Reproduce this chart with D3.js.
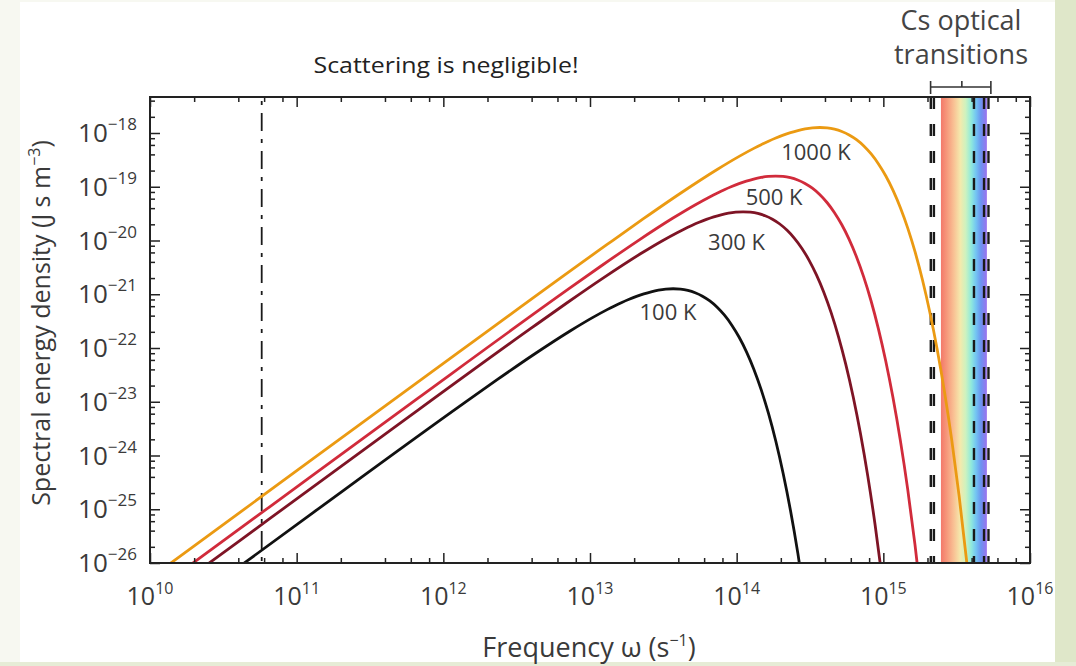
<!DOCTYPE html>
<html>
<head>
<meta charset="utf-8">
<script src="https://cdn.jsdelivr.net/npm/d3@7"></script>
<style>
  html, body { margin: 0; padding: 0; background: #f7f8f1; }
  svg { display: block; }
</style>
</head>
<body>
<svg id="chart" width="1076" height="666"></svg>
<script>
// ---- Blackbody spectral energy density curves (log10 of ω in s^-1, log10 of u in J s m^-3) ----
const seriesNames = ["100 K", "300 K", "500 K", "1000 K"];
const seriesColors = ["#111111", "#7e1425", "#d12b3b", "#eb9a12"];

const freqExp100 = [10.500, 11.117, 12.117, 12.367, 12.617, 12.867, 13.017, 13.117,
  13.167, 13.217, 13.267, 13.317, 13.367, 13.417, 13.467, 13.517, 13.567, 13.617,
  13.667, 13.717, 13.767, 13.817, 13.867, 13.917, 13.967, 14.017, 14.067, 14.117,
  14.167, 14.217, 14.267, 14.317, 14.367, 14.417, 14.467];
const densExp100 = [-26.285, -25.053, -23.073, -22.590, -22.121, -21.679, -21.435, -21.286,
  -21.217, -21.152, -21.093, -21.039, -20.993, -20.954, -20.924, -20.905, -20.898, -20.905,
  -20.929, -20.972, -21.036, -21.124, -21.241, -21.390, -21.575, -21.800, -22.071, -22.394,
  -22.774, -23.218, -23.735, -24.334, -25.024, -25.816, -26.723];

const freqExp300 = [10.000, 10.594, 11.594, 12.594, 12.844, 13.094, 13.344, 13.494, 13.594,
  13.644, 13.694, 13.744, 13.794, 13.844, 13.894, 13.944, 13.994, 14.044, 14.094,
  14.144, 14.194, 14.244, 14.294, 14.344, 14.394, 14.444, 14.494, 14.544, 14.594,
  14.644, 14.694, 14.744, 14.794, 14.844, 14.894, 14.944, 14.994];
const densExp300 = [-26.808, -25.619, -23.621, -21.641, -21.158, -20.690, -20.247, -20.003, -19.854,
  -19.785, -19.721, -19.661, -19.608, -19.561, -19.522, -19.492, -19.473, -19.466, -19.474,
  -19.497, -19.540, -19.604, -19.693, -19.810, -19.959, -20.143, -20.369, -20.640, -20.962,
  -21.342, -21.787, -22.304, -22.902, -23.592, -24.384, -25.292, -26.328];

const freqExp500 = [10.000, 10.816, 11.816, 12.816, 13.066, 13.316, 13.566, 13.716, 13.816,
  13.866, 13.916, 13.966, 14.016, 14.066, 14.116, 14.166, 14.216, 14.266, 14.316,
  14.366, 14.416, 14.466, 14.516, 14.566, 14.616, 14.666, 14.716, 14.766, 14.816,
  14.866, 14.916, 14.966, 15.016, 15.066, 15.116, 15.166, 15.216, 15.266];
const densExp500 = [-26.586, -24.954, -22.956, -20.976, -20.493, -20.024, -19.582, -19.338, -19.189,
  -19.120, -19.055, -18.996, -18.942, -18.896, -18.857, -18.827, -18.808, -18.801, -18.808,
  -18.832, -18.875, -18.939, -19.027, -19.144, -19.293, -19.478, -19.703, -19.974, -20.297,
  -20.677, -21.121, -21.638, -22.237, -22.927, -23.719, -24.626, -25.663, -26.844];

const freqExp1000 = [10.000, 11.117, 12.117, 13.117, 13.367, 13.617, 13.867, 14.017, 14.117,
  14.167, 14.217, 14.267, 14.317, 14.367, 14.417, 14.467, 14.517, 14.567, 14.617,
  14.667, 14.717, 14.767, 14.817, 14.867, 14.917, 14.967, 15.017, 15.067, 15.117,
  15.167, 15.217, 15.267, 15.317, 15.367, 15.417, 15.467, 15.517, 15.567, 15.617];
const densExp1000 = [-26.285, -24.051, -22.053, -20.073, -19.590, -19.121, -18.679, -18.435, -18.286,
  -18.217, -18.152, -18.093, -18.039, -17.993, -17.954, -17.924, -17.905, -17.898, -17.905,
  -17.929, -17.972, -18.036, -18.124, -18.241, -18.390, -18.575, -18.800, -19.071, -19.394,
  -19.774, -20.218, -20.735, -21.334, -22.024, -22.816, -23.723, -24.760, -25.941, -27.284];

// label anchor points for each curve (frequency, density at the text baseline)
const labelFreq = [3.40e13, 9.98e13, 1.80e14, 3.47e14];
const labelDens = [3.32e-22, 6.65e-21, 4.57e-20, 3.15e-19];

// ---- Axes ----
const xTickValues = [1e10, 1e11, 1e12, 1e13, 1e14, 1e15, 1e16];
const xTickExps = ["10", "11", "12", "13", "14", "15", "16"];
const yTickValues = [1e-26, 1e-25, 1e-24, 1e-23, 1e-22, 1e-21, 1e-20, 1e-19, 1e-18];
const yTickExps = ["−26", "−25", "−24", "−23", "−22", "−21", "−20", "−19", "−18"];
const minorMultipliers = [2, 4, 6, 8];

// ---- Annotations ----
const hyperfineFreq = 5.776e10;                       // Cs ground-state hyperfine (dash-dot)
const csLineFreqs = [2.107e15, 2.212e15, 4.15e15, 4.86e15, 5.21e15]; // Cs optical lines
const visibleBand = [2.47e15, 5.08e15];               // visible spectrum band
const bracketFreqs = [2.10e15, 3.43e15, 5.41e15];      // left end, middle tick, right end

const W = 1076, H = 666;
const plotLeft = 150, plotRight = 1030, plotTop = 97, plotBottom = 563;

const svg = d3.select("#chart");

// page panels
svg.append("rect").attr("x", 0).attr("y", 0).attr("width", W).attr("height", H).attr("fill", "#f7f8f1");
svg.append("rect").attr("x", 1055).attr("y", 0).attr("width", W - 1055).attr("height", H).attr("fill", "#dfe7c9");
svg.append("rect").attr("x", 0).attr("y", 662).attr("width", W).attr("height", 4).attr("fill", "#e6ecd6");
svg.append("rect").attr("x", 20).attr("y", 2).attr("width", 1035).attr("height", 660).attr("fill", "#ffffff");

const x = d3.scaleLog().domain([1e10, 1e16]).range([plotLeft, plotRight]);
const y = d3.scaleLog().domain([1e-26, 1e-18]).range([plotBottom, 133]);

const defs = svg.append("defs");
defs.append("clipPath").attr("id", "plotClip")
  .append("rect").attr("x", plotLeft).attr("y", plotTop)
  .attr("width", plotRight - plotLeft).attr("height", plotBottom - plotTop);

// visible band gradient
const grad = defs.append("linearGradient").attr("id", "visGrad")
  .attr("x1", "0%").attr("x2", "100%").attr("y1", "0%").attr("y2", "0%");
[
  [0.00, "#f3796a"], [0.12, "#f6967a"], [0.28, "#f9c194"], [0.42, "#f5e9ac"],
  [0.54, "#cdf2bf"], [0.66, "#8fe9dc"], [0.76, "#74c6f2"], [0.87, "#6b94f0"], [1.00, "#9b72ee"]
].forEach(([o, c]) => grad.append("stop").attr("offset", o).attr("stop-color", c));

svg.append("rect")
  .attr("x", x(visibleBand[0])).attr("y", plotTop)
  .attr("width", x(visibleBand[1]) - x(visibleBand[0])).attr("height", plotBottom - plotTop)
  .attr("fill", "url(#visGrad)");

// Cs optical transitions (thick dashed lines)
svg.append("g").selectAll("line").data(csLineFreqs).join("line")
  .attr("x1", d => x(d)).attr("x2", d => x(d))
  .attr("y1", plotTop).attr("y2", plotBottom)
  .attr("stroke", "#1a1a1a").attr("stroke-width", 2.4)
  .attr("stroke-dasharray", "12,15");

// hyperfine line (dash-dot)
svg.append("line")
  .attr("x1", x(hyperfineFreq)).attr("x2", x(hyperfineFreq))
  .attr("y1", plotTop).attr("y2", plotBottom)
  .attr("stroke", "#1a1a1a").attr("stroke-width", 1.8)
  .attr("stroke-dasharray", "18,8,4,8").attr("stroke-dashoffset", 22);

// curves
const curveData = [
  freqExp100.map((f, i) => [10 ** f, 10 ** densExp100[i]]),
  freqExp300.map((f, i) => [10 ** f, 10 ** densExp300[i]]),
  freqExp500.map((f, i) => [10 ** f, 10 ** densExp500[i]]),
  freqExp1000.map((f, i) => [10 ** f, 10 ** densExp1000[i]])
];
const line = d3.line().x(d => x(d[0])).y(d => y(d[1])).curve(d3.curveMonotoneX);

svg.append("g").attr("clip-path", "url(#plotClip)")
  .selectAll("path").data(curveData).join("path")
  .attr("d", line)
  .attr("fill", "none")
  .attr("stroke", (d, i) => seriesColors[i])
  .attr("stroke-width", 2.8)
  .attr("stroke-linejoin", "round");

// curve labels
const font = "'Open Sans', sans-serif";
svg.append("g").selectAll("text").data(seriesNames).join("text")
  .attr("x", (d, i) => x(labelFreq[i]))
  .attr("y", (d, i) => y(labelDens[i]))
  .attr("text-anchor", "middle")
  .attr("font-family", font)
  .attr("font-size", 22)
  .attr("fill", "#3a3a3a")
  .text(d => d);

// axes ticks
function minorValues(lo, hi) {
  const out = [];
  for (let e = lo; e < hi; e++) {
    minorMultipliers.forEach(m => out.push(m * Math.pow(10, e)));
  }
  return out;
}
const xMinor = minorValues(10, 16);
const yMinor = minorValues(-26, -17).filter(v => y(v) >= plotTop);

function styleAxis(g) {
  g.select(".domain").remove();
  g.selectAll(".tick line").attr("stroke", "#222").attr("stroke-width", 1.5);
  g.selectAll(".tick text").remove();
}
const axisDefs = [
  [() => d3.axisBottom(x), `translate(0,${plotBottom})`, xTickValues, xMinor],
  [() => d3.axisTop(x), `translate(0,${plotTop})`, xTickValues, xMinor],
  [() => d3.axisLeft(y), `translate(${plotLeft},0)`, yTickValues, yMinor],
  [() => d3.axisRight(y), `translate(${plotRight},0)`, yTickValues, yMinor]
];
axisDefs.forEach(([mk, tr, major, minor]) => {
  svg.append("g").attr("transform", tr)
    .call(mk().tickValues(major).tickSizeInner(-10).tickSizeOuter(0).tickFormat(() => ""))
    .call(styleAxis);
  svg.append("g").attr("transform", tr)
    .call(mk().tickValues(minor).tickSizeInner(-5).tickSizeOuter(0).tickFormat(() => ""))
    .call(styleAxis);
});

// frame
svg.append("rect")
  .attr("x", plotLeft).attr("y", plotTop)
  .attr("width", plotRight - plotLeft).attr("height", plotBottom - plotTop)
  .attr("fill", "none").attr("stroke", "#222").attr("stroke-width", 2);

// tick labels
xTickValues.forEach((v, i) => {
  const t = svg.append("text")
    .attr("x", x(v)).attr("y", 605)
    .attr("text-anchor", "middle")
    .attr("font-family", font).attr("font-size", 25).attr("fill", "#3a3a3a");
  t.append("tspan").text("10");
  t.append("tspan").attr("dy", -11).attr("font-size", 16).text(xTickExps[i]);
});
yTickValues.forEach((v, i) => {
  const t = svg.append("text")
    .attr("x", 137).attr("y", y(v) + 9)
    .attr("text-anchor", "end")
    .attr("font-family", font).attr("font-size", 26).attr("fill", "#3a3a3a");
  t.append("tspan").text("10");
  t.append("tspan").attr("dy", -12).attr("font-size", 17).text(yTickExps[i]);
});

// axis titles
const xt = svg.append("text")
  .attr("x", 589).attr("y", 657)
  .attr("text-anchor", "middle")
  .attr("font-family", font).attr("font-size", 27).attr("fill", "#3a3a3a");
xt.append("tspan").text("Frequency ω (s");
xt.append("tspan").attr("dy", -11).attr("font-size", 16).text("−1");
xt.append("tspan").attr("dy", 11).text(")");

const yt = svg.append("text")
  .attr("transform", "translate(50,323) rotate(-90)")
  .attr("text-anchor", "middle")
  .attr("font-family", font).attr("font-size", 25).attr("fill", "#3a3a3a");
yt.append("tspan").text("Spectral energy density (J s m");
yt.append("tspan").attr("dy", -10).attr("font-size", 16).text("−3");
yt.append("tspan").attr("dy", 10).text(")");

// annotations
svg.append("text")
  .attr("x", 446).attr("y", 73)
  .attr("text-anchor", "middle")
  .attr("font-family", font).attr("font-size", 21)
  .attr("textLength", 265).attr("lengthAdjust", "spacingAndGlyphs")
  .attr("fill", "#222")
  .text("Scattering is negligible!");

svg.append("text").attr("x", 961).attr("y", 30)
  .attr("text-anchor", "middle").attr("font-family", font).attr("font-size", 27).attr("fill", "#444")
  .text("Cs optical");
svg.append("text").attr("x", 961).attr("y", 64)
  .attr("text-anchor", "middle").attr("font-family", font).attr("font-size", 27).attr("fill", "#444")
  .text("transitions");

// bracket over the optical lines
const bg = svg.append("g").attr("stroke", "#333").attr("stroke-width", 1.6);
bg.append("line").attr("x1", x(bracketFreqs[0])).attr("x2", x(bracketFreqs[2])).attr("y1", 87).attr("y2", 87);
bg.append("line").attr("x1", x(bracketFreqs[0])).attr("x2", x(bracketFreqs[0])).attr("y1", 81).attr("y2", 94);
bg.append("line").attr("x1", x(bracketFreqs[2])).attr("x2", x(bracketFreqs[2])).attr("y1", 81).attr("y2", 94);
bg.append("line").attr("x1", x(bracketFreqs[1])).attr("x2", x(bracketFreqs[1])).attr("y1", 81).attr("y2", 87);
</script>
</body>
</html>
